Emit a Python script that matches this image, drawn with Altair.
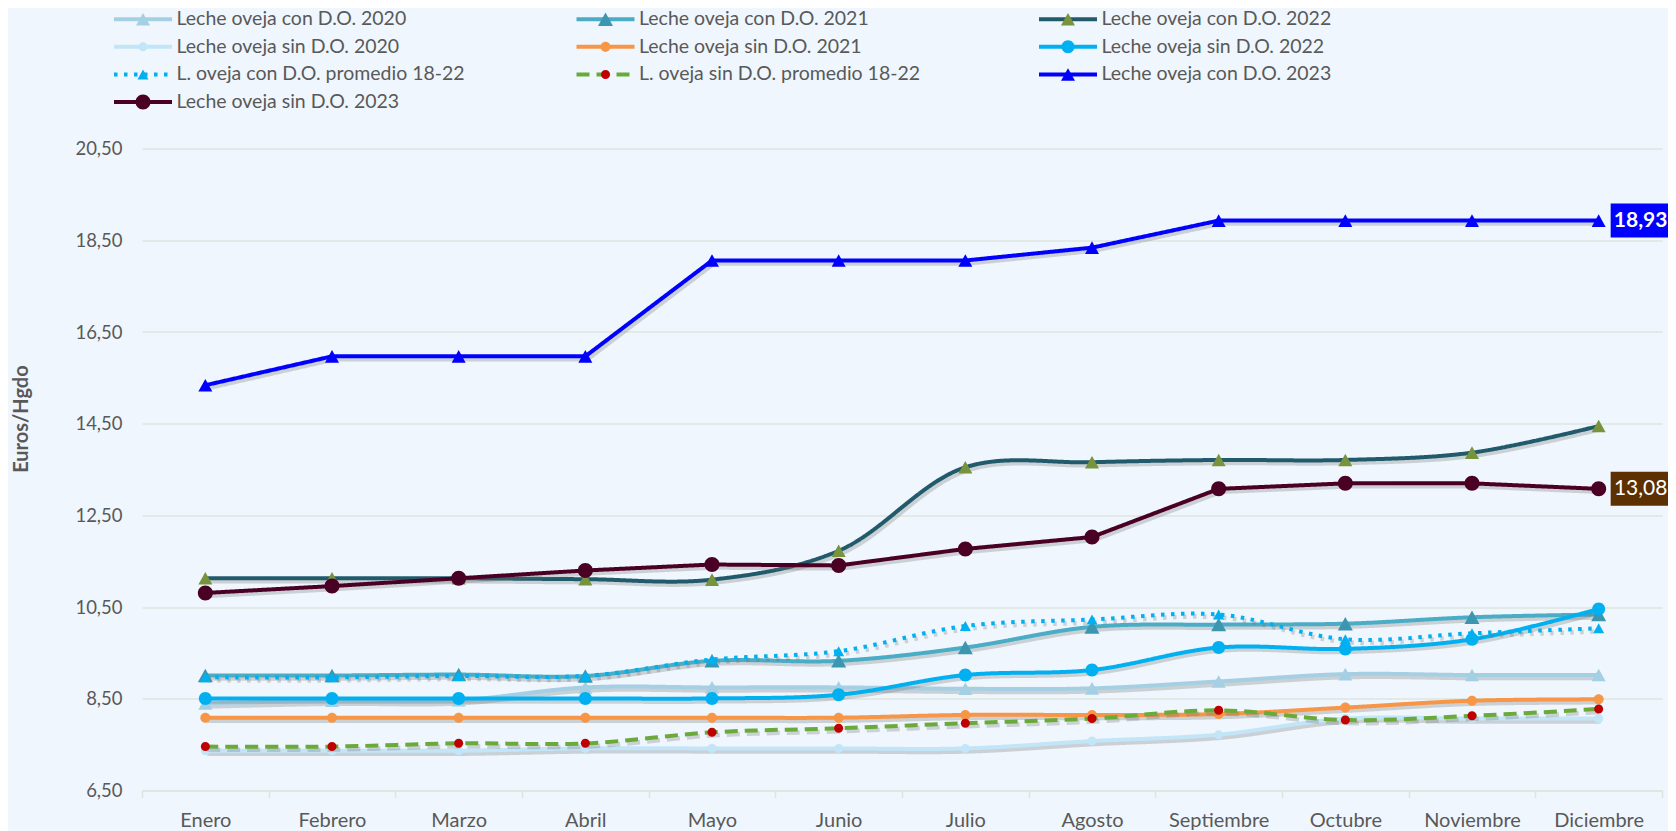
import altair as alt
import pandas as pd

# ---------------- data ----------------
months = ["Enero", "Febrero", "Marzo", "Abril", "Mayo", "Junio", "Julio",
          "Agosto", "Septiembre", "Octubre", "Noviembre", "Diciembre"]

series_names = [
    "Leche oveja con D.O. 2020",
    "Leche oveja con D.O. 2021",
    "Leche oveja con D.O. 2022",
    "Leche oveja sin D.O. 2020",
    "Leche oveja sin D.O. 2021",
    "Leche oveja sin D.O. 2022",
    "L. oveja con D.O. promedio 18-22",
    "L. oveja sin D.O. promedio 18-22",
    "Leche oveja con D.O. 2023",
    "Leche oveja sin D.O. 2023",
]

con_do_2020 = [8.40, 8.46, 8.47, 8.75, 8.75, 8.75, 8.72, 8.73, 8.88, 9.04, 9.02, 9.02]
con_do_2021 = [9.01, 9.01, 9.03, 9.00, 9.33, 9.33, 9.62, 10.07, 10.12, 10.14, 10.28, 10.34]
con_do_2022 = [11.13, 11.13, 11.13, 11.11, 11.10, 11.73, 13.55, 13.66, 13.71, 13.71, 13.87, 14.45]
sin_do_2020 = [7.37, 7.37, 7.37, 7.42, 7.42, 7.42, 7.42, 7.58, 7.72, 8.07, 8.07, 8.07]
sin_do_2021 = [8.09, 8.09, 8.09, 8.09, 8.09, 8.09, 8.15, 8.15, 8.17, 8.31, 8.46, 8.49]
sin_do_2022 = [8.51, 8.51, 8.51, 8.51, 8.51, 8.59, 9.02, 9.13, 9.62, 9.59, 9.80, 10.46]
prom_con_18_22 = [8.97, 8.97, 9.00, 9.00, 9.36, 9.54, 10.09, 10.23, 10.34, 9.80, 9.93, 10.04]
prom_sin_18_22 = [7.46, 7.46, 7.53, 7.53, 7.77, 7.86, 7.97, 8.07, 8.25, 8.04, 8.13, 8.28]
con_do_2023 = [15.34, 15.97, 15.97, 15.97, 18.06, 18.06, 18.06, 18.34, 18.93, 18.93, 18.93, 18.93]
sin_do_2023 = [10.81, 10.96, 11.13, 11.30, 11.43, 11.41, 11.77, 12.03, 13.08, 13.20, 13.20, 13.08]

series_values = [con_do_2020, con_do_2021, con_do_2022, sin_do_2020, sin_do_2021,
                 sin_do_2022, prom_con_18_22, prom_sin_18_22, con_do_2023, sin_do_2023]

y_ticks = [6.5, 8.5, 10.5, 12.5, 14.5, 16.5, 18.5, 20.5]

# legend grid: 3 columns, row-major
legend_cols = [i % 3 for i in range(len(series_names))]
legend_rows = [i // 3 for i in range(len(series_names))]

rows = []
for name, vals in zip(series_names, series_values):
    for m, v in zip(months, vals):
        rows.append({"series": name, "mes": m, "valor": v})
df = pd.DataFrame(rows)
leg_df = pd.DataFrame({"series": series_names, "col": legend_cols,
                       "row": legend_rows})

# ---------------- styles ----------------
SYM = 3136  # point size -> 56 px box; path unit = 28 px
U = 28.0


def tri(w):
    a = w / 2 / U
    hb = 0.45 * w / U
    return f"M{-a:.3f},{hb:.3f}L0,{-hb:.3f}L{a:.3f},{hb:.3f}Z"


def circ(d):
    r = d / 2 / U
    return (f"M{-r:.3f},0A{r:.3f},{r:.3f} 0 1,0 {r:.3f},0"
            f"A{r:.3f},{r:.3f} 0 1,0 {-r:.3f},0Z")


line_colors = ["#A5CFE3", "#4BACC6", "#215A6B", "#C2E5F8", "#F79646",
               "#00B0F0", "#00B0F0", "#6AAA3A", "#0000FF", "#4A0025"]
marker_colors = ["#A5CFE3", "#3C96B0", "#77933C", "#C2E5F8", "#F79646",
                 "#00B0F0", "#00B0F0", "#C00000", "#0000FF", "#4A0025"]
dashes = [[1, 0], [1, 0], [1, 0], [1, 0], [1, 0],
          [1, 0], [3.5, 6.5], [13, 7], [1, 0], [1, 0]]
marker_paths = [tri(14), tri(15), tri(14), circ(9), circ(10),
                circ(13), tri(11), circ(9), tri(14), circ(15)]
smooth = [True, True, True, True, True, True, True, True, False, False]
draw_order = [0, 3, 1, 4, 2, 5, 6, 7, 8, 9]

FONT = "Lato"
TXT = "#595959"
GRID = "#DDE6DE"

x_enc = alt.X(
    "mes:N", sort=months,
    scale=alt.Scale(type="band", paddingInner=0, paddingOuter=0),
    axis=alt.Axis(title=None, labelAngle=0, tickBand="extent", ticks=True,
                  tickSize=7, tickColor=GRID, tickWidth=1.5, domainColor=GRID,
                  domainWidth=1.5, labelPadding=13, labelFont=FONT,
                  labelFontSize=20, labelColor=TXT, grid=False),
)
y_enc = alt.Y(
    "valor:Q",
    scale=alt.Scale(domain=[6.5, 20.5], nice=False, zero=False),
    axis=alt.Axis(values=y_ticks,
                  labelExpr="replace(format(datum.value, '.2f'), '.', ',')",
                  title="Euros/Hgdo", titleFont=FONT, titleFontSize=20,
                  titleFontWeight="bold", titleColor=TXT, titleAngle=270,
                  titleX=-121, titleY=270, titleAlign="center",
                  titleBaseline="middle",
                  ticks=False, tickSize=0, domain=False, labelPadding=20,
                  labelFont=FONT, labelFontSize=18.5, labelColor=TXT,
                  grid=True, gridColor=GRID, gridWidth=1.5),
)

stroke_enc = alt.Stroke("series:N",
                        scale=alt.Scale(domain=series_names, range=line_colors),
                        legend=None)
dash_enc = alt.StrokeDash("series:N",
                          scale=alt.Scale(domain=series_names, range=dashes),
                          legend=None)
fill_enc = alt.Fill("series:N",
                    scale=alt.Scale(domain=series_names, range=marker_colors),
                    legend=None)
shape_enc = alt.Shape("series:N",
                      scale=alt.Scale(domain=series_names, range=marker_paths),
                      legend=None)

base = alt.Chart(df)
main_layers = []
for i in draw_order:
    name = series_names[i]
    interp = "catmull-rom" if smooth[i] else "linear"
    sel = base.transform_filter(alt.datum.series == name)
    main_layers.append(
        sel.mark_line(interpolate=interp, color="#6e6e6e", opacity=0.28,
                      strokeWidth=4.5, xOffset=2, yOffset=3,
                      strokeDash=dashes[i])
        .encode(x=x_enc, y=y_enc)
    )
    main_layers.append(
        sel.mark_line(interpolate=interp, strokeWidth=4)
        .encode(x=x_enc, y=y_enc, stroke=stroke_enc, strokeDash=dash_enc)
    )
    main_layers.append(
        sel.mark_point(filled=True, opacity=1, size=SYM, strokeWidth=0)
        .encode(x=x_enc, y=y_enc, fill=fill_enc, shape=shape_enc)
    )

# data labels for the 2023 series at Diciembre
label_defs = [("Leche oveja con D.O. 2023", "#0000FF", "bold"),
              ("Leche oveja sin D.O. 2023", "#5C3000", "normal")]
BOX_W, BOX_H = 62, 34
box_path = (f"M-1,{-BOX_H / BOX_W:.3f}L1,{-BOX_H / BOX_W:.3f}"
            f"L1,{BOX_H / BOX_W:.3f}L-1,{BOX_H / BOX_W:.3f}Z")
for name, col, weight in label_defs:
    sel = base.transform_filter(
        (alt.datum.series == name) & (alt.datum.mes == "Diciembre")
    ).transform_calculate(
        lab="replace(format(datum.valor, '.2f'), '.', ',')"
    )
    main_layers.append(
        sel.mark_point(shape=box_path, size=BOX_W * BOX_W, filled=True,
                       opacity=1, color=col, strokeWidth=0, xOffset=43)
        .encode(x=x_enc, y=y_enc)
    )
    main_layers.append(
        sel.mark_text(color="white", font=FONT, fontSize=21, fontWeight=weight,
                      xOffset=42, align="center", baseline="middle")
        .encode(x=x_enc, y=y_enc, text="lab:N")
    )

main = alt.layer(*main_layers)

# ---------------- legend (3 x 4 grid above the plot) ----------------
lx = alt.X("col:Q", scale=alt.Scale(domain=[0, 2], range=[-28, 897]), axis=None)
ly = alt.Y("row:Q", scale=alt.Scale(domain=[0, 3], range=[-129.3, -46.6]),
           axis=None)
lbase = alt.Chart(leg_df)
legend = alt.layer(
    lbase.mark_rule(strokeWidth=4, x2Offset=58).encode(
        x=lx, x2=alt.X2("col:Q"), y=ly, stroke=stroke_enc, strokeDash=dash_enc),
    lbase.mark_point(filled=True, opacity=1, size=SYM, strokeWidth=0,
                     xOffset=29).encode(x=lx, y=ly, fill=fill_enc,
                                        shape=shape_enc),
    lbase.mark_text(align="left", baseline="middle", xOffset=62.5, font=FONT,
                    fontSize=19.5, color=TXT).encode(x=lx, y=ly,
                                                     text="series:N"),
)

chart = (
    alt.layer(main, legend)
    .resolve_scale(x="independent", y="independent")
    .properties(width=1520, height=642, background="#EFF6FD",
                autosize=alt.AutoSizeParams(type="none"),
                padding={"left": 134, "top": 140.6, "right": 6, "bottom": 40})
    .configure_view(stroke=None)
)

chart.save("out.html", embed_options={"renderer": "svg", "actions": False})
